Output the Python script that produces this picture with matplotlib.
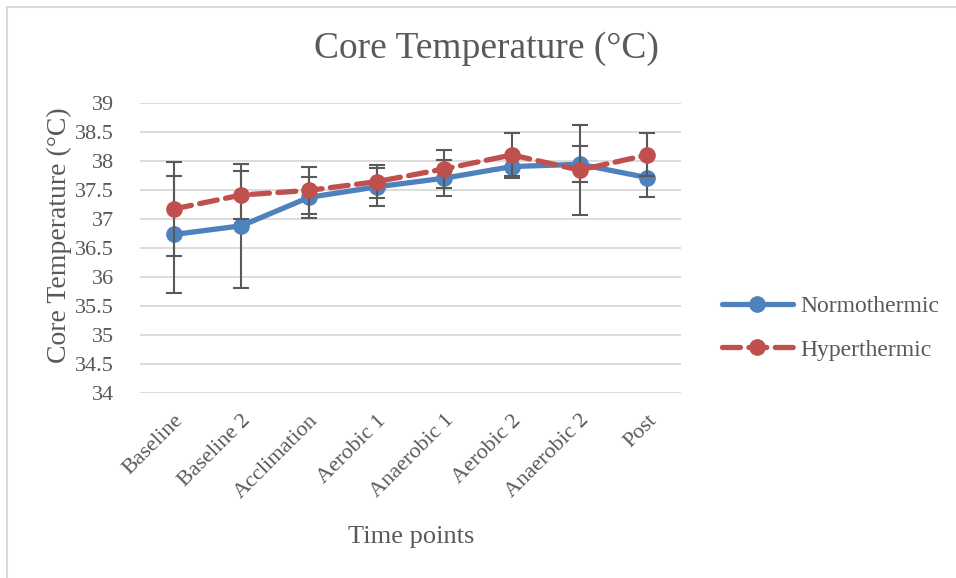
import matplotlib
matplotlib.use("Agg")
import matplotlib.pyplot as plt
from matplotlib.lines import Line2D

categories = ["Baseline", "Baseline 2", "Acclimation", "Aerobic 1",
              "Anaerobic 1", "Aerobic 2", "Anaerobic 2", "Post"]
normo_mean = [36.73, 36.88, 37.37, 37.55, 37.70, 37.90, 37.94, 37.71]
normo_err = [1.00, 1.07, 0.35, 0.33, 0.31, 0.20, 0.31, 0.33]
hyper_mean = [37.17, 37.41, 37.49, 37.64, 37.86, 38.10, 37.84, 38.10]
hyper_err = [0.81, 0.42, 0.41, 0.28, 0.33, 0.37, 0.77, 0.37]
yticks = [34, 34.5, 35, 35.5, 36, 36.5, 37, 37.5, 38, 38.5, 39]
ytick_labels = ["34", "34.5", "35", "35.5", "36", "36.5", "37", "37.5", "38", "38.5", "39"]

TXT = "#595959"
BLUE = "#4F81BD"
RED = "#C0504D"
GRID = "#D9D9D9"
plt.rcParams["font.family"] = ["Liberation Serif", "DejaVu Serif"]

W, H = 956, 578
fig = plt.figure(figsize=(W / 100, H / 100), dpi=100)
ax = fig.add_axes([140 / W, 1 - 393 / H, (681 - 140) / W, (393 - 102.7) / H])

x = list(range(len(categories)))

ax.errorbar(x, normo_mean, yerr=normo_err, fmt="none", ecolor=TXT,
            elinewidth=1.5, capsize=5.5, capthick=1.5, zorder=3)
ax.plot(x, normo_mean, color=BLUE, lw=3.8, marker="o", ms=11,
        solid_capstyle="round", zorder=4, label="Normothermic")
ax.errorbar(x, hyper_mean, yerr=hyper_err, fmt="none", ecolor=TXT,
            elinewidth=1.5, capsize=5.5, capthick=1.5, zorder=5)
ax.plot(x, hyper_mean, color=RED, lw=3.8, marker="o", ms=11,
        linestyle=(0, (3.4, 1.6)), dash_capstyle="round", zorder=6,
        label="Hyperthermic")

ax.set_xlim(-0.5, len(categories) - 0.5)
ax.set_ylim(34, 39)
ax.set_yticks(yticks)
ax.set_yticklabels(ytick_labels)
ax.set_xticks(x)
ax.set_xticklabels(categories, rotation=45, ha="right", rotation_mode="anchor")
ax.tick_params(axis="both", length=0, colors=TXT, labelsize=16)
ax.tick_params(axis="y", pad=19)
ax.tick_params(axis="x", pad=13)
ax.grid(axis="y", color=GRID, lw=1.3, zorder=0)
ax.set_axisbelow(True)
for s in ax.spines.values():
    s.set_visible(False)

fig.text(486 / W, 1 - 49 / H, "Core Temperature (°C)", ha="center", va="center",
         fontsize=27, color=TXT)
fig.text(59 / W, 1 - 235 / H, "Core Temperature (°C)", ha="center", va="center",
         rotation=90, fontsize=20, color=TXT)
fig.text(411 / W, 1 - 537 / H, "Time points", ha="center", va="center",
         fontsize=19, color=TXT)

handles, labels = ax.get_legend_handles_labels()
leg = fig.legend(handles, labels, loc="center left",
                 bbox_to_anchor=(722 / W, 1 - 328 / H), frameon=False,
                 fontsize=17, handlelength=3.0, handletextpad=0.3,
                 labelspacing=0.95, borderpad=0, borderaxespad=0,
                 labelcolor=TXT)

fig.add_artist(Line2D([7 / W, 7 / W], [0, 1 - 7 / H], color=GRID, lw=1.5,
                      transform=fig.transFigure))
fig.add_artist(Line2D([7 / W, 1], [1 - 7 / H, 1 - 7 / H], color=GRID, lw=1.5,
                      transform=fig.transFigure))

fig.savefig("out.png", dpi=100)
